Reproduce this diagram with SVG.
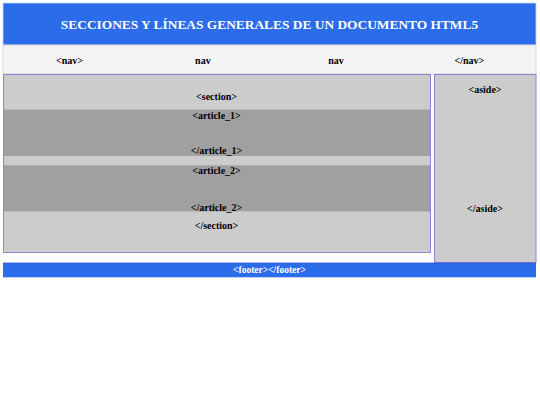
<svg xmlns="http://www.w3.org/2000/svg" width="540" height="405" viewBox="0 0 540 405">
<style>
text{font-family:"Liberation Serif","Times New Roman",serif;font-weight:bold;text-anchor:middle}
.lbl{font-size:10px;fill:#000}
.wht{fill:#fff}
.box{fill:#cccccc;stroke:#8985d2;stroke-width:1}
.art{fill:#a0a0a0}
.blue{fill:#2b6cea}
</style>
<rect width="540" height="405" fill="#fff"/>
<g id="header">
<rect class="blue" x="3" y="3" width="533" height="42" stroke="#c8d4f0" stroke-width="0.8"/>
<text class="wht" x="269.5" y="29.3" font-size="13.4">SECCIONES Y LÍNEAS GENERALES DE UN DOCUMENTO HTML5</text>
</g>
<g id="nav">
<rect x="3" y="45" width="533" height="29" fill="#f4f4f4" stroke="#d0d0d0" stroke-width="0.8"/>
<text class="lbl" x="69.6" y="63.5">&lt;nav&gt;</text>
<text class="lbl" x="202.9" y="63.5">nav</text>
<text class="lbl" x="336.1" y="63.5">nav</text>
<text class="lbl" x="469.4" y="63.5">&lt;/nav&gt;</text>
</g>
<g id="section">
<rect class="box" x="3.5" y="74.5" width="427" height="178"/>
<text class="lbl" x="216.5" y="99.5">&lt;section&gt;</text>
<text class="lbl" x="216.5" y="229">&lt;/section&gt;</text>
</g>
<g id="article_1">
<rect class="art" x="4" y="109.3" width="426" height="46.7"/>
<line x1="4" y1="109.5" x2="430" y2="109.5" stroke="#bdbdbd" stroke-width="0.8"/>
<text class="lbl" x="216.5" y="118.5">&lt;article_1&gt;</text>
<text class="lbl" x="216.5" y="153.5">&lt;/article_1&gt;</text>
</g>
<g id="article_2">
<rect class="art" x="4" y="165.3" width="426" height="46.4"/>
<line x1="4" y1="211.5" x2="430" y2="211.5" stroke="#bdbdbd" stroke-width="0.8"/>
<text class="lbl" x="216.5" y="173.5">&lt;article_2&gt;</text>
<text class="lbl" x="216.5" y="210.5">&lt;/article_2&gt;</text>
</g>
<g id="aside">
<rect class="box" x="434.5" y="74.5" width="101.5" height="188"/>
<text class="lbl" x="485" y="92.5">&lt;aside&gt;</text>
<text class="lbl" x="485" y="211.5">&lt;/aside&gt;</text>
</g>
<g id="footer">
<rect class="blue" x="3" y="262.8" width="533" height="14.5"/>
<line x1="3" y1="263.2" x2="536" y2="263.2" stroke="#3a5ad8" stroke-width="0.8"/>
<text class="wht" x="269.5" y="272.8" font-size="9.5">&lt;footer&gt;&lt;/footer&gt;</text>
</g>
<g id="connectors"></g>
</svg>
